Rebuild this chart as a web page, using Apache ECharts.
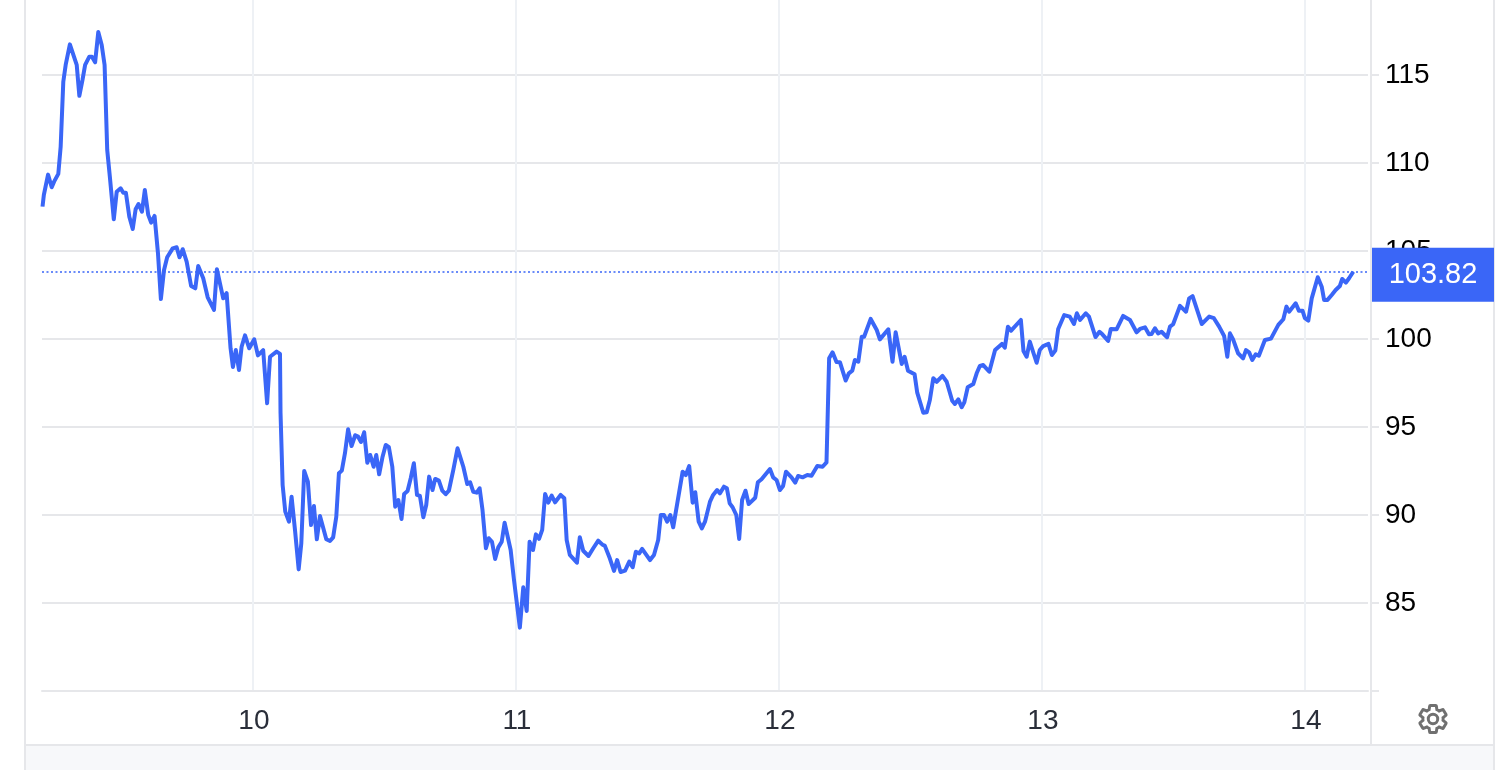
<!DOCTYPE html>
<html>
<head>
<meta charset="utf-8">
<style>
html, body { margin: 0; padding: 0; background: #fff; }
#box { width: 1506px; height: 770px; }
</style>
<script src="https://cdn.jsdelivr.net/npm/echarts@6/dist/echarts.min.js"></script>
</head>
<body>
<div id="box"></div>
<script>
// day of the month for each vertex of the line
const times = [
  9.200, 9.205, 9.221, 9.235, 9.244, 9.260, 9.269, 9.279, 9.288, 9.304, 9.330, 9.340, 9.352, 9.362, 9.378, 9.388, 9.400, 9.412, 9.425, 9.436,
  9.446, 9.456, 9.471, 9.482, 9.497, 9.507, 9.517, 9.530, 9.543, 9.554, 9.565, 9.578, 9.589, 9.602, 9.613, 9.626, 9.639, 9.650, 9.662, 9.674,
  9.695, 9.710, 9.721, 9.733, 9.748, 9.765, 9.781, 9.792, 9.811, 9.828, 9.852, 9.863, 9.887, 9.900, 9.915, 9.924, 9.935, 9.947, 9.957, 9.970,
  9.986, 10.005, 10.019, 10.039, 10.054, 10.065, 10.090, 10.103, 10.105, 10.113, 10.123, 10.137, 10.147, 10.160, 10.174, 10.184, 10.195, 10.209, 10.221, 10.232,
  10.243, 10.255, 10.279, 10.293, 10.305, 10.317, 10.327, 10.338, 10.350, 10.362, 10.375, 10.389, 10.400, 10.411, 10.423, 10.435, 10.446, 10.459, 10.469, 10.480,
  10.493, 10.505, 10.517, 10.530, 10.541, 10.553, 10.565, 10.575, 10.588, 10.600, 10.612, 10.624, 10.635, 10.648, 10.659, 10.670, 10.683, 10.693, 10.707, 10.720,
  10.733, 10.745, 10.762, 10.778, 10.800, 10.815, 10.826, 10.838, 10.851, 10.862, 10.873, 10.886, 10.897, 10.909, 10.921, 10.933, 10.946, 10.957, 10.980, 10.992,
  11.015, 11.028, 11.041, 11.052, 11.065, 11.076, 11.088, 11.100, 11.111, 11.123, 11.136, 11.149, 11.170, 11.184, 11.193, 11.205, 11.232, 11.243, 11.256, 11.276,
  11.294, 11.313, 11.330, 11.338, 11.357, 11.373, 11.385, 11.398, 11.415, 11.431, 11.444, 11.456, 11.469, 11.480, 11.510, 11.525, 11.541, 11.551, 11.563, 11.575,
  11.587, 11.598, 11.634, 11.646, 11.659, 11.672, 11.682, 11.695, 11.707, 11.719, 11.738, 11.750, 11.765, 11.776, 11.791, 11.802, 11.813, 11.824, 11.838, 11.849,
  11.860, 11.873, 11.885, 11.910, 11.920, 11.934, 11.966, 11.978, 11.991, 12.004, 12.016, 12.027, 12.048, 12.062, 12.073, 12.090, 12.108, 12.124, 12.146, 12.166,
  12.181, 12.191, 12.204, 12.219, 12.232, 12.254, 12.266, 12.279, 12.289, 12.302, 12.315, 12.324, 12.349, 12.372, 12.384, 12.416, 12.422, 12.432, 12.444, 12.467,
  12.478, 12.491, 12.516, 12.526, 12.549, 12.562, 12.574, 12.587, 12.600, 12.622, 12.638, 12.659, 12.669, 12.682, 12.695, 12.705, 12.718, 12.739, 12.752, 12.764,
  12.777, 12.800, 12.822, 12.848, 12.859, 12.871, 12.883, 12.920, 12.930, 12.942, 12.954, 12.980, 12.992, 13.005, 13.025, 13.038, 13.051, 13.062, 13.085, 13.106,
  13.122, 13.133, 13.145, 13.167, 13.179, 13.204, 13.219, 13.229, 13.252, 13.262, 13.284, 13.309, 13.335, 13.360, 13.373, 13.392, 13.407, 13.417, 13.430, 13.442,
  13.455, 13.476, 13.487, 13.499, 13.525, 13.548, 13.560, 13.573, 13.608, 13.636, 13.654, 13.674, 13.693, 13.705, 13.715, 13.727, 13.746, 13.765, 13.776, 13.788,
  13.800, 13.813, 13.825, 13.848, 13.871, 13.899, 13.918, 13.930, 13.940, 13.965, 13.977, 13.991, 14.000, 14.013, 14.026, 14.049, 14.064, 14.073, 14.086, 14.102,
  14.117, 14.133, 14.142, 14.156, 14.168, 14.184
]

const prices = [
  107.52, 108.18, 109.34, 108.62, 108.94, 109.38, 110.93, 114.62, 115.57, 116.74, 115.57, 113.82, 114.72, 115.57, 116.04, 116.04, 115.72, 117.44, 116.70, 115.57,
  110.74, 109.22, 106.80, 108.37, 108.56, 108.31, 108.31, 106.95, 106.25, 107.37, 107.67, 107.23, 108.47, 107.05, 106.61, 106.99, 104.87, 102.27, 103.92, 104.64,
  105.15, 105.21, 104.64, 105.10, 104.39, 103.01, 102.88, 104.15, 103.45, 102.37, 101.65, 103.96, 102.31, 102.60, 99.47, 98.41, 99.37, 98.24, 99.56, 100.21,
  99.47, 99.98, 99.07, 99.37, 96.35, 98.99, 99.28, 99.15, 95.80, 91.70, 90.19, 89.62, 91.04, 89.15, 86.91, 88.39, 92.50, 91.89, 89.43, 90.51,
  88.62, 89.94, 88.62, 88.52, 88.73, 89.90, 92.37, 92.52, 93.51, 94.87, 93.92, 94.53, 94.45, 94.15, 94.70, 92.97, 93.41, 92.74, 93.41, 92.31,
  93.31, 93.98, 93.85, 92.74, 90.47, 90.85, 89.77, 91.19, 91.36, 92.09, 92.94, 91.14, 91.08, 89.87, 90.57, 92.18, 91.42, 92.05, 91.95, 91.38,
  91.18, 91.38, 92.56, 93.79, 92.74, 91.76, 91.86, 91.32, 91.27, 91.52, 90.28, 88.11, 88.68, 88.48, 87.50, 88.16, 88.48, 89.56, 88.01, 86.40,
  83.60, 85.89, 84.55, 88.48, 88.01, 88.90, 88.64, 89.15, 91.19, 90.70, 91.10, 90.72, 91.14, 90.95, 88.58, 87.73, 87.29, 88.73, 87.97, 87.67,
  88.11, 88.54, 88.30, 88.26, 87.54, 86.82, 87.44, 86.76, 86.84, 87.35, 87.03, 87.91, 87.82, 88.07, 87.44, 87.73, 88.58, 90.00, 90.00, 89.62,
  90.00, 89.30, 92.46, 92.27, 92.78, 90.70, 91.29, 89.62, 89.24, 89.62, 90.76, 91.14, 91.42, 91.23, 91.61, 91.52, 90.66, 90.44, 90.00, 88.64,
  90.85, 91.38, 90.62, 90.98, 91.86, 92.03, 92.61, 92.14, 91.99, 91.42, 91.65, 92.46, 92.14, 91.84, 92.22, 92.14, 92.27, 92.23, 92.78, 92.74,
  92.99, 98.90, 99.24, 98.69, 98.68, 97.64, 98.05, 98.20, 98.81, 98.71, 100.13, 100.13, 101.14, 100.51, 99.98, 100.55, 100.51, 98.71, 100.38, 98.58,
  98.99, 98.20, 97.99, 96.95, 95.81, 95.84, 96.53, 97.77, 97.57, 97.90, 97.57, 96.49, 96.31, 96.57, 96.12, 96.40, 97.26, 97.44, 98.05, 98.47,
  98.52, 98.14, 99.37, 99.72, 99.51, 100.70, 100.47, 101.08, 99.32, 98.99, 99.85, 98.65, 99.37, 99.60, 99.72, 99.09, 99.34, 100.57, 101.36, 101.27,
  100.85, 101.46, 101.08, 101.46, 101.27, 100.11, 100.41, 100.28, 99.89, 100.57, 100.55, 101.31, 101.08, 100.38, 100.57, 100.66, 100.27, 100.28, 100.61, 100.32,
  100.41, 100.10, 100.70, 100.84, 101.88, 101.55, 102.31, 102.44, 100.85, 101.27, 101.18, 100.70, 100.17, 98.99, 100.32, 99.98, 99.19, 98.90, 99.37, 99.24,
  98.81, 99.13, 99.05, 99.94, 100.02, 100.80, 101.12, 101.84, 101.55, 102.03, 101.61, 101.61, 101.18, 101.04, 102.31, 103.51, 102.97, 102.22, 102.22, 102.50,
  102.78, 103.01, 103.41, 103.20, 103.45, 103.82
]

const dayTicks = [10, 11, 12, 13, 14]
const priceTicks = [85, 90, 95, 100, 105, 110, 115]
const priceTickMarks = [80, 85, 90, 95, 100, 105, 110, 115]
const lastPrice = prices[prices.length - 1]

const BLUE = '#3a66f7'
const LINE_GREY = '#e6e7ea'
const GEAR = 'M19.43 12.98c.04-.32.07-.64.07-.98s-.03-.66-.07-.98l2.11-1.65c.19-.15.24-.42.12-.64l-2-3.46c-.12-.22-.39-.3-.61-.22l-2.49 1c-.52-.4-1.08-.73-1.69-.98l-.38-2.65C14.46 2.18 14.25 2 14 2h-4c-.25 0-.46.18-.49.42l-.38 2.65c-.61.25-1.17.59-1.69.98l-2.49-1c-.23-.09-.49 0-.61.22l-2 3.46c-.13.22-.07.49.12.64l2.11 1.65c-.04.32-.07.65-.07.98s.03.66.07.98l-2.11 1.65c-.19.15-.24.42-.12.64l2 3.46c.12.22.39.3.61.22l2.49-1c.52.4 1.08.73 1.69.98l.38 2.65c.03.24.24.42.49.42h4c.25 0 .46-.18.49-.42l.38-2.65c.61-.25 1.17-.59 1.69-.98l2.49 1c.23.09.49 0 .61-.22l2-3.46c.12-.22.07-.49-.12-.64l-2.11-1.65zM12 15.5c-1.93 0-3.5-1.57-3.5-3.5s1.57-3.5 3.5-3.5 3.5 1.57 3.5 3.5-1.57 3.5-3.5 3.5z'

echarts.graphic.registerShape('gear', echarts.graphic.extendPath(GEAR))

const chart = echarts.init(document.getElementById('box'), null, { renderer: 'canvas' })

chart.setOption({
  animation: false,
  textStyle: { fontFamily: '"Liberation Sans", Arial, sans-serif' },
  grid: { left: 42, top: 0, width: 1326, height: 691, containLabel: false },
  xAxis: {
    type: 'value',
    min: 9.198,
    max: 14.24,
    axisLine: { show: true, onZero: false, lineStyle: { color: LINE_GREY, width: 2 } },
    axisTick: { show: false },
    axisLabel: {
      customValues: dayTicks,
      formatter: v => String(v),
      color: '#2a2e39',
      fontSize: 28,
      margin: 16,
      padding: [0, 0, 0, 2]
    },
    splitLine: { show: true, showMinLine: false, showMaxLine: false, lineStyle: { color: '#eef1f5', width: 2 } }
  },
  yAxis: {
    type: 'value',
    position: 'right',
    offset: 3,
    min: 80,
    max: 119.26,
    interval: 5,
    axisLine: { show: true, lineStyle: { color: LINE_GREY, width: 2 } },
    axisTick: { show: true, length: 8, customValues: priceTickMarks, lineStyle: { color: LINE_GREY, width: 2 } },
    axisLabel: {
      customValues: priceTicks,
      formatter: v => String(v),
      color: '#000',
      fontSize: 28,
      margin: 14
    },
    splitLine: { show: true, lineStyle: { color: LINE_GREY, width: 2 } }
  },
  series: [{
    type: 'line',
    data: times.map((t, i) => [t, prices[i]]),
    showSymbol: false,
    sampling: 'none',
    lineStyle: { color: BLUE, width: 4, join: 'round' },
    markLine: {
      silent: true,
      symbol: 'none',
      lineStyle: { color: BLUE, width: 1.5, type: [2, 2.5] },
      label: {
        position: 'end',
        distance: 4,
        formatter: () => lastPrice.toFixed(2),
        color: '#fff',
        fontSize: 29,
        backgroundColor: BLUE,
        width: 122,
        height: 48,
        lineHeight: 48,
        align: 'center',
        padding: [6, 0, 0, 0],
        offset: [61, 3]
      },
      data: [{ yAxis: lastPrice }]
    }
  }],
  graphic: [
    { type: 'rect', silent: true, z: -1, shape: { x: 25, y: 745, width: 1470, height: 25 }, style: { fill: '#f7f8fa' } },
    { type: 'rect', silent: true, z: -1, shape: { x: 25, y: 744, width: 1470, height: 2 }, style: { fill: LINE_GREY } },
    { type: 'rect', silent: true, z: -1, shape: { x: 24, y: 0, width: 2, height: 770 }, style: { fill: LINE_GREY } },
    { type: 'rect', silent: true, z: -1, shape: { x: 1493, y: 0, width: 2, height: 770 }, style: { fill: LINE_GREY } },
    { type: 'rect', silent: true, z: -1, shape: { x: 1370, y: 691, width: 2, height: 54 }, style: { fill: LINE_GREY } },
    {
      type: 'gear',
      silent: true,
      x: 1416.8,
      y: 702.8,
      scaleX: 1.35,
      scaleY: 1.35,
      style: { fill: 'none', stroke: '#707070', lineWidth: 2.2 }
    }
  ]
})
</script>
</body>
</html>
